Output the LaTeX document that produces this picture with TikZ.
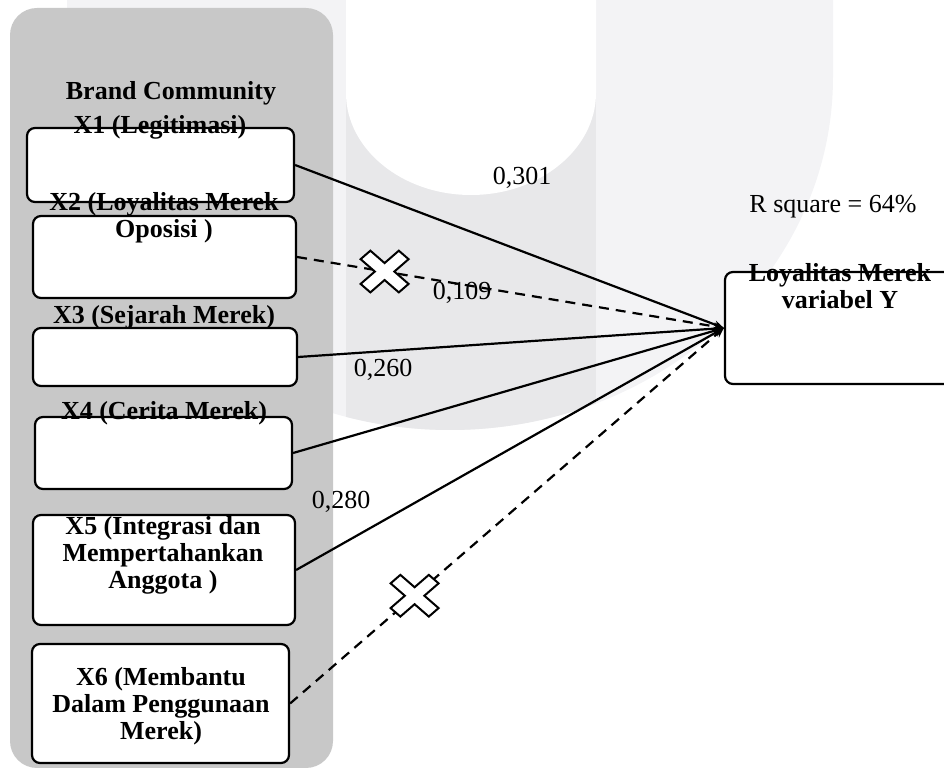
\documentclass[tikz,border=0pt]{standalone}
\usepackage{fontspec}
\setmainfont{Liberation Serif}
\usetikzlibrary{arrows.meta}
\definecolor{panelgray}{RGB}{200,200,200}
\definecolor{wmlight}{RGB}{243,243,245}
\definecolor{wmdark}{RGB}{232,232,234}
\tikzset{
  varbox/.style={draw, line width=1.1pt, fill=white, rounded corners=4pt, inner sep=0pt},
  vartext/.style={font=\fontsize{13}{13.5}\selectfont\bfseries, align=center, inner sep=0pt},
  coef/.style={font=\fontsize{13}{13.5}\selectfont, inner sep=0pt},
  sig/.style={line width=1.1pt, -{Stealth[length=5pt,width=4pt]}},
  nonsig/.style={sig, dash pattern=on 5pt off 3.5pt}
}
\newcommand{\wmshape}{(67,0) -- (67,77) .. controls (67,272) and (238.5,430) .. (450,430) .. controls (661.5,430) and (833,272) .. (833,77) -- (833,0) -- cycle}
\newcommand{\nocross}[1]{ \draw[line width=1pt, fill=white, shift={(#1)}, xscale=1.15, rotate=45] (6,6) -- (23.5,6) -- (23.5,-6) -- (6,-6) -- (6,-23.5) -- (-6,-23.5) -- (-6,-6) -- (-23.5,-6) -- (-23.5,6) -- (-6,6) -- (-6,23.5) -- (6,23.5) -- cycle;}

\begin{document}
\begin{tikzpicture}[x=0.5pt, y=-0.5pt]
    \useasboundingbox (0,0) rectangle (944,769);
    % watermark
    \fill[wmlight] \wmshape;
    \begin{scope}
        \clip \wmshape;
        \fill[wmdark] (346,0) rectangle (596,440);
    \end{scope}
    \fill[white] (346,0) -- (346,93) .. controls (346,149) and (402,195) .. (471,195) .. controls (540,195) and (596,149) .. (596,93) -- (596,0) -- cycle;
    % panel
    \fill[panelgray, rounded corners=13.5pt] (10,8) rectangle (333,768);

    % boxes
    \node[varbox, minimum width=133.5pt, minimum height=37pt] (x1) at (160.5,165) {};
    \node[varbox, minimum width=131.5pt, minimum height=41pt] (x2) at (164.5,257) {};
    \node[varbox, minimum width=132pt, minimum height=29pt] (x3) at (165,357) {};
    \node[varbox, minimum width=128.5pt, minimum height=36pt] (x4) at (163.5,453) {};
    \node[varbox, minimum width=131pt, minimum height=55pt] (x5) at (164,570) {};
    \node[varbox, minimum width=128.5pt, minimum height=59.5pt] (x6) at (160.5,703.5) {};
    \node[varbox, minimum width=115pt, minimum height=56pt] (y) at (840,328) {};

    % paths
    \draw[sig] (x1.east) -- (y.west);
    \draw[nonsig] (x2.east) -- coordinate[pos=0.205] (c1) (y.west);
    \draw[sig] (x3.east) -- (y.west);
    \draw[sig] (x4.east) -- (y.west);
    \draw[sig] (x5.east) -- (y.west);
    \draw[nonsig] (x6.east) -- coordinate[pos=0.287] (c2) (y.west);
    \nocross{c1}
    \nocross{c2}

    % labels
    \node[vartext] (brand) at (171,93) {Brand Community};
    \node[vartext] (t1) at (160,127) {X1 (Legitimasi)};
    \node[vartext] (t2) at (164,218) {X2 (Loyalitas Merek\\Oposisi )};
    \node[vartext] (t3) at (164,317) {X3 (Sejarah Merek)};
    \node[vartext] (t4) at (164,413) {X4 (Cerita Merek)};
    \node[vartext] (t5) at (163,555) {X5 (Integrasi dan\\Mempertahankan\\Anggota )};
    \node[vartext] (t6) at (161,706) {X6 (Membantu\\Dalam Penggunaan\\Merek)};
    \node[vartext] (ty) at (840,286) {Loyalitas Merek\\variabel Y};

    % coefficients
    \node[coef] (b1) at (522,178) {0,301};
    \node[coef] (b2) at (462,293) {0,109};
    \node[coef] (b3) at (383,370) {0,260};
    \node[coef] (b4) at (341,502) {0,280};
    \node[coef] (rsq) at (833,207) {R square = 64\%};

\end{tikzpicture}
\end{document}
